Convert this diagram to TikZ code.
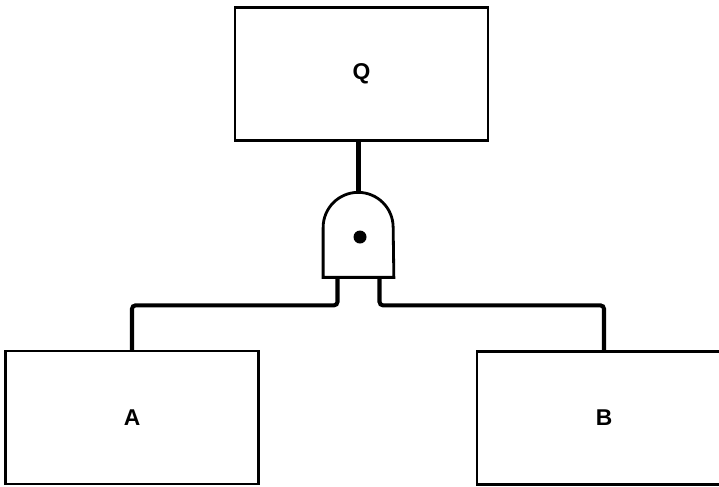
\documentclass[tikz,border=0pt]{standalone}
\usepackage{fontspec}
\setmainfont{Liberation Sans}
\usepackage{tikz}
\usetikzlibrary{positioning,calc}

\begin{document}
\begin{tikzpicture}[
  event/.style={draw,line width=1.3pt,minimum width=5.06cm,minimum height=2.66cm,font=\fontsize{13}{15}\selectfont\bfseries},
  andgate/.style={minimum width=1.4cm,minimum height=1.7cm,inner sep=0pt},
  wire/.style={line width=2.3pt,rounded corners=2pt}
]
\useasboundingbox (0,0) rectangle (14.38,-9.72);
\node[event] (q) at (7.23,-1.48) {Q};
\node[andgate] (gate) at (7.17,-4.69) {};
\node[event] (a) at (2.64,-8.35) {A};
\node[event,minimum width=5.08cm] (b) at (12.08,-8.36) {B};

% gate outline and dot
\draw[line width=1.6pt] (gate.south west) -- ++(0,1.0) arc[start angle=180,end angle=0,radius=0.7] -- (gate.south east) -- cycle;
\fill ($(gate.center)+(0.03,-0.05)$) circle (0.13);

\draw[wire] (q.south -| gate.north) -- (gate.north);
\draw[wire] ([xshift=-4.2mm]gate.south) -- ++(0,-0.56) -| (a.north);
\draw[wire] ([xshift=4.2mm]gate.south) -- ++(0,-0.56) -| (b.north);
\end{tikzpicture}
\end{document}
